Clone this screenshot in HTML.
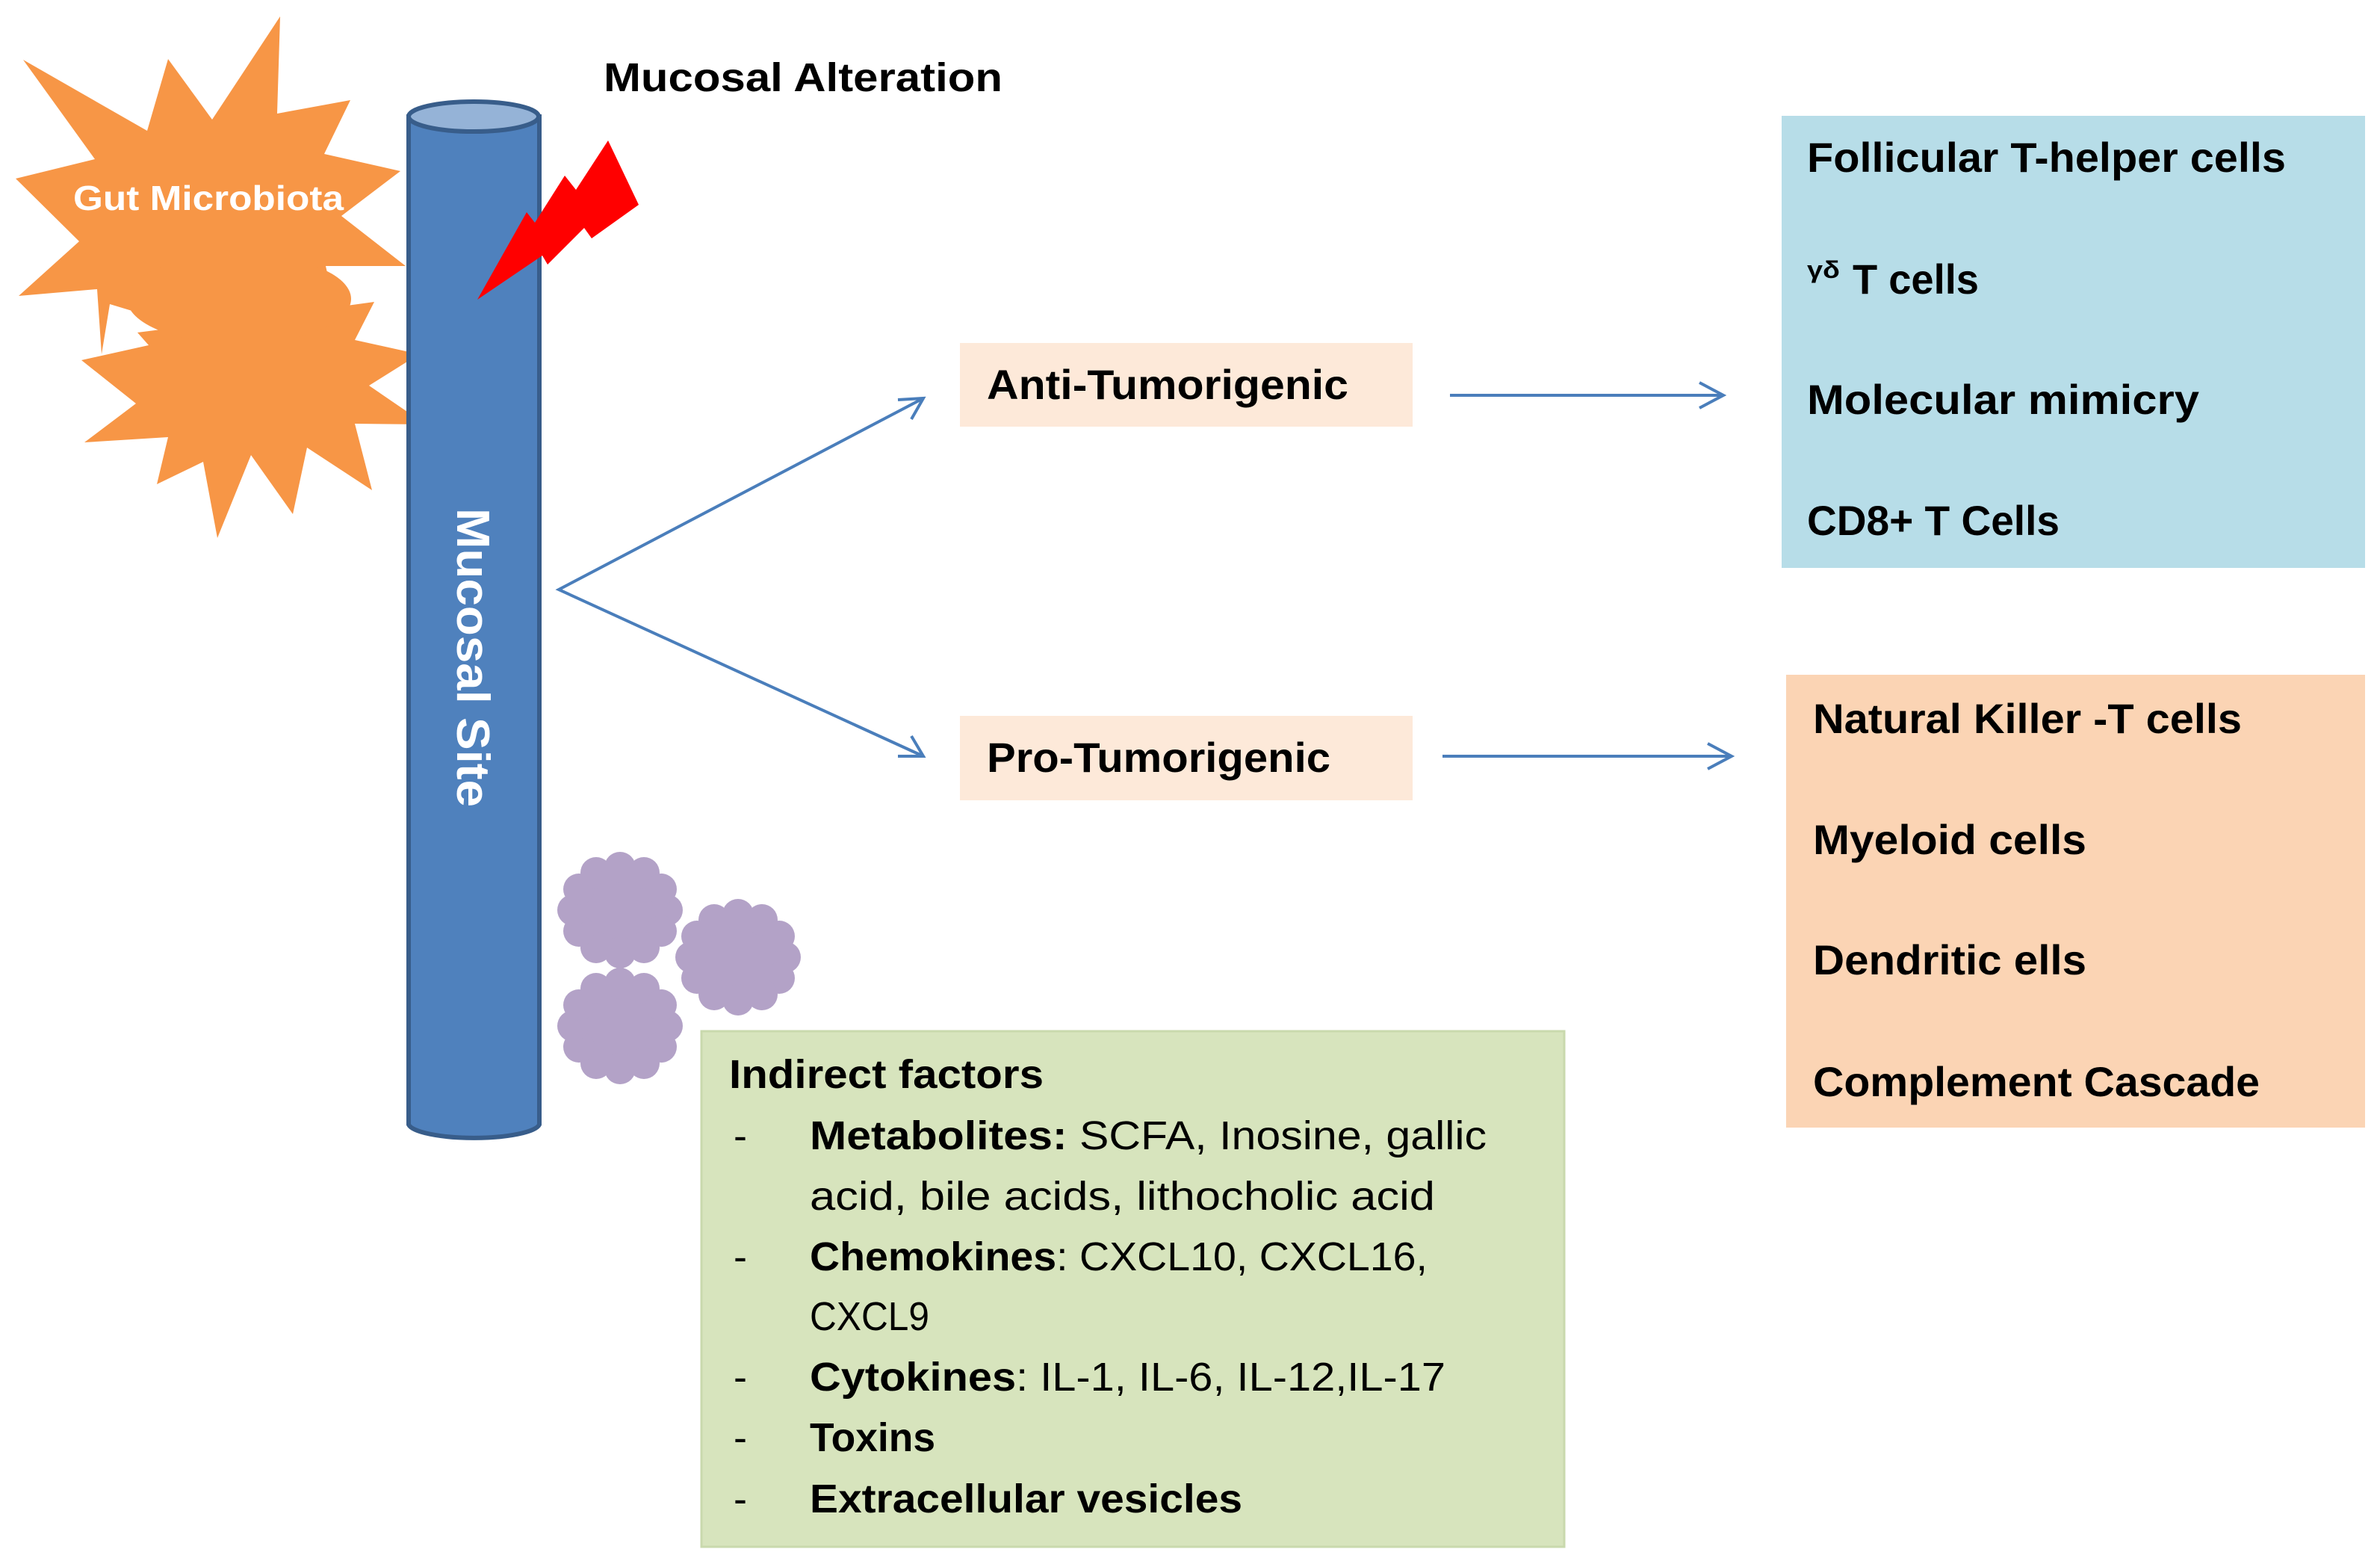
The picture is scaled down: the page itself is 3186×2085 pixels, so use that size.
<!DOCTYPE html>
<html><head><meta charset="utf-8"><style>
html,body{margin:0;padding:0;background:#fff;}
svg{display:block;}
text{font-family:"Liberation Sans",sans-serif;}
</style></head><body>
<svg width="3186" height="2085" viewBox="0 0 3186 2085" xmlns="http://www.w3.org/2000/svg">
<defs>
<g id="cloud" fill="#B3A2C7">
<ellipse cx="0" cy="0" rx="64" ry="56"/>
<circle cx="63" cy="0" r="21"/><circle cx="55" cy="28" r="21"/><circle cx="32" cy="50" r="21"/><circle cx="0" cy="57" r="21"/><circle cx="-32" cy="50" r="21"/><circle cx="-55" cy="28" r="21"/><circle cx="-63" cy="0" r="21"/><circle cx="-55" cy="-28" r="21"/><circle cx="-32" cy="-50" r="21"/><circle cx="0" cy="-57" r="21"/><circle cx="32" cy="-50" r="21"/><circle cx="55" cy="-28" r="21"/>
</g>
</defs>
<!-- starbursts -->
<polygon fill="#F79646" points="109,482 199,462 184,445 450,411 501,404 475,455 561,474 494,516 570,568 475,567 498,656 411,599 392,688 336,609 291,720 272,618 210,648 225,585 113,592 182,540"/>
<polygon fill="#F79646" points="31,80 197,175 225,79 284,160 375,22 371,152 469,134 434,206 536,229 457,289 543,356 436,356 448,409 190,420 147,407 136,474 130,387 25,396 106,323 21,239 127,213"/>
<ellipse cx="320" cy="400" rx="150" ry="60" fill="#F79646"/>
<text x="98" y="281" font-size="46" font-weight="bold" fill="#fff" textLength="362" lengthAdjust="spacingAndGlyphs">Gut Microbiota</text>
<!-- cylinder -->
<path d="M547,156 L547,1505 A88,20 0 0 0 722,1505 L722,156 Z" fill="#4F81BD" stroke="#385D8A" stroke-width="6"/>
<ellipse cx="634" cy="156" rx="87" ry="20" fill="#95B3D7" stroke="#385D8A" stroke-width="6"/>
<text x="0" y="0" transform="translate(612,880) rotate(90)" font-size="62" font-weight="bold" fill="#fff" text-anchor="middle" textLength="400" lengthAdjust="spacingAndGlyphs">Mucosal Site</text>
<!-- lightning -->
<polygon fill="#FF0000" points="639,401 705,284 716,298 756,235 771,254 814,188 855,274 792,319 782,305 733,354 726,342"/>
<text x="808" y="122" font-size="54" font-weight="bold" fill="#000" textLength="534" lengthAdjust="spacingAndGlyphs">Mucosal Alteration</text>
<!-- clouds -->
<use href="#cloud" transform="translate(830,1218)"/>
<use href="#cloud" transform="translate(988,1281)"/>
<use href="#cloud" transform="translate(830,1373)"/>
<!-- connectors -->
<g stroke="#4A7EBB" stroke-width="4" fill="none">
<polyline points="1236,533 748,789 1236,1012"/>
<polyline points="1202,535 1236,533 1220,561"/>
<polyline points="1220,985 1236,1012 1202,1012"/>
<line x1="1941" y1="529" x2="2307" y2="529"/>
<polyline points="2275,512 2307,529 2275,546"/>
<line x1="1931" y1="1012" x2="2318" y2="1012"/>
<polyline points="2286,995 2318,1012 2286,1029"/>
</g>
<!-- mid boxes -->
<rect x="1285" y="459" width="606" height="112" fill="#FDE9D9"/>
<text x="1321" y="534" font-size="56" font-weight="bold" textLength="484" lengthAdjust="spacingAndGlyphs">Anti-Tumorigenic</text>
<rect x="1285" y="958" width="606" height="113" fill="#FDE9D9"/>
<text x="1321" y="1033" font-size="56" font-weight="bold" textLength="460" lengthAdjust="spacingAndGlyphs">Pro-Tumorigenic</text>
<!-- blue box -->
<rect x="2385" y="155" width="781" height="605" fill="#B7DDE8"/>
<g font-size="56" font-weight="bold">
<text x="2419" y="230" textLength="641" lengthAdjust="spacingAndGlyphs">Follicular T-helper cells</text>
<text x="2419" y="372" font-size="32" textLength="44" lengthAdjust="spacingAndGlyphs">γδ</text>
<text x="2480" y="393" textLength="169" lengthAdjust="spacingAndGlyphs">T cells</text>
<text x="2419" y="554" textLength="525" lengthAdjust="spacingAndGlyphs">Molecular mimicry</text>
<text x="2419" y="716" textLength="338" lengthAdjust="spacingAndGlyphs">CD8+ T Cells</text>
</g>
<!-- orange box -->
<rect x="2391" y="903" width="775" height="606" fill="#FBD4B4"/>
<g font-size="56" font-weight="bold">
<text x="2427" y="981" textLength="574" lengthAdjust="spacingAndGlyphs">Natural Killer -T cells</text>
<text x="2427" y="1143" textLength="366" lengthAdjust="spacingAndGlyphs">Myeloid cells</text>
<text x="2427" y="1304" textLength="366" lengthAdjust="spacingAndGlyphs">Dendritic ells</text>
<text x="2427" y="1467" textLength="598" lengthAdjust="spacingAndGlyphs">Complement Cascade</text>
</g>
<!-- green box -->
<rect x="939" y="1380" width="1155" height="690" fill="#D7E4BD" stroke="#C9D9AD" stroke-width="3"/>
<g font-size="54">
<text x="976" y="1456" font-weight="bold" textLength="421" lengthAdjust="spacingAndGlyphs">Indirect factors</text>
<text x="982" y="1538">-</text>
<text x="1084" y="1538" textLength="906" lengthAdjust="spacingAndGlyphs"><tspan font-weight="bold">Metabolites:</tspan> SCFA, Inosine, gallic</text>
<text x="1084" y="1619" textLength="837" lengthAdjust="spacingAndGlyphs">acid, bile acids, lithocholic acid</text>
<text x="982" y="1700">-</text>
<text x="1084" y="1700" textLength="827" lengthAdjust="spacingAndGlyphs"><tspan font-weight="bold">Chemokines</tspan>: CXCL10, CXCL16,</text>
<text x="1084" y="1780" textLength="160" lengthAdjust="spacingAndGlyphs">CXCL9</text>
<text x="982" y="1861">-</text>
<text x="1084" y="1861" textLength="851" lengthAdjust="spacingAndGlyphs"><tspan font-weight="bold">Cytokines</tspan>: IL-1, IL-6, IL-12,IL-17</text>
<text x="982" y="1942">-</text>
<text x="1084" y="1942" font-weight="bold" textLength="168" lengthAdjust="spacingAndGlyphs">Toxins</text>
<text x="982" y="2024">-</text>
<text x="1084" y="2024" font-weight="bold" textLength="579" lengthAdjust="spacingAndGlyphs">Extracellular vesicles</text>
</g>
</svg>
</body></html>
